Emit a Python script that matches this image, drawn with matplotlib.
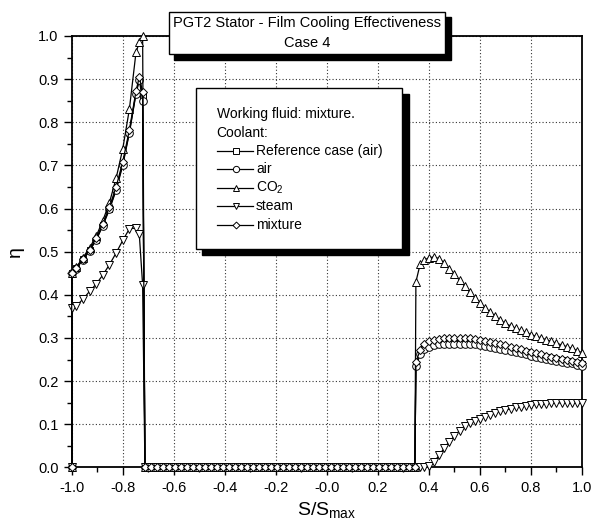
import numpy as np
import matplotlib
matplotlib.use("Agg")
import matplotlib.pyplot as plt
from matplotlib.patches import Rectangle
from matplotlib.lines import Line2D

plt.rcParams['font.family'] = ['Liberation Sans', 'DejaVu Sans']
plt.rcParams['mathtext.fontset'] = 'custom'
plt.rcParams['mathtext.rm'] = 'Liberation Sans'
plt.rcParams['mathtext.it'] = 'Liberation Sans:italic'
plt.rcParams['mathtext.default'] = 'regular'

# ---- data ----
# suction side (left part), S/Smax
s_left = [-1.0, -1.0, -0.982, -0.956, -0.930, -0.904, -0.878, -0.852,
          -0.826, -0.800, -0.774, -0.748, -0.735, -0.722]
eta_ref_left = [0.0, 0.45, 0.462, 0.482, 0.503, 0.528, 0.562, 0.600,
                0.645, 0.703, 0.777, 0.868, 0.900, 0.862]
eta_air_left = [0.0, 0.45, 0.461, 0.481, 0.502, 0.527, 0.560, 0.598,
                0.642, 0.700, 0.775, 0.866, 0.898, 0.850]
eta_co2_left = [0.0, 0.45, 0.464, 0.486, 0.509, 0.536, 0.572, 0.614,
                0.670, 0.738, 0.830, 0.962, 0.985, 1.0]
eta_steam_left = [0.0, 0.37, 0.374, 0.390, 0.408, 0.425, 0.446, 0.470,
                  0.497, 0.526, 0.553, 0.555, 0.540, 0.423]
eta_mix_left = [0.0, 0.45, 0.463, 0.484, 0.505, 0.531, 0.565, 0.604,
                0.650, 0.708, 0.782, 0.872, 0.905, 0.870]

# uncooled stretch, effectiveness is zero
s_gap = [-0.713, -0.690, -0.666, -0.643, -0.619, -0.596, -0.572, -0.549,
         -0.525, -0.502, -0.478, -0.455, -0.431, -0.408, -0.384, -0.361,
         -0.337, -0.314, -0.290, -0.267, -0.243, -0.220, -0.196, -0.173,
         -0.149, -0.126, -0.102, -0.079, -0.055, -0.032, -0.008, 0.015,
         0.039, 0.062, 0.086, 0.109, 0.133, 0.156, 0.180, 0.203,
         0.227, 0.250, 0.274, 0.297, 0.321, 0.345]
eta_gap = [0.0] * len(s_gap)

# pressure side (right part)
s_right = [0.349, 0.366, 0.38, 0.40, 0.42, 0.44, 0.46, 0.48, 0.50, 0.52,
           0.54, 0.56, 0.58, 0.60, 0.62, 0.64, 0.66, 0.68, 0.70, 0.72,
           0.74, 0.76, 0.78, 0.80, 0.82, 0.84, 0.86, 0.88, 0.90, 0.92,
           0.94, 0.96, 0.98, 1.0]
eta_ref_right = [0.240, 0.267, 0.279, 0.286, 0.289, 0.291, 0.292, 0.293, 0.293, 0.293,
                 0.293, 0.292, 0.291, 0.289, 0.287, 0.285, 0.282, 0.280, 0.278, 0.275,
                 0.272, 0.270, 0.267, 0.264, 0.261, 0.258, 0.256, 0.253, 0.251, 0.248,
                 0.246, 0.244, 0.241, 0.239]
eta_air_right = [0.234, 0.262, 0.274, 0.280, 0.283, 0.285, 0.286, 0.287, 0.287, 0.287,
                 0.287, 0.286, 0.285, 0.283, 0.281, 0.279, 0.277, 0.275, 0.273, 0.270,
                 0.268, 0.265, 0.262, 0.259, 0.257, 0.254, 0.252, 0.249, 0.247, 0.245,
                 0.243, 0.241, 0.238, 0.236]
eta_co2_right = [0.430, 0.472, 0.480, 0.486, 0.488, 0.484, 0.474, 0.461, 0.448, 0.434,
                 0.420, 0.406, 0.393, 0.381, 0.370, 0.360, 0.350, 0.341, 0.334, 0.328,
                 0.323, 0.318, 0.313, 0.308, 0.304, 0.300, 0.296, 0.292, 0.288, 0.284,
                 0.280, 0.276, 0.271, 0.266]
eta_steam_right = [0.0, 0.0, 0.0, 0.003, 0.013, 0.028, 0.045, 0.060, 0.073, 0.085,
                   0.096, 0.102, 0.108, 0.113, 0.118, 0.122, 0.126, 0.130, 0.133, 0.136,
                   0.139, 0.141, 0.143, 0.145, 0.146, 0.147, 0.148, 0.149, 0.149, 0.150,
                   0.150, 0.150, 0.149, 0.149]
eta_mix_right = [0.245, 0.272, 0.285, 0.292, 0.296, 0.298, 0.299, 0.300, 0.300, 0.300,
                 0.300, 0.299, 0.297, 0.295, 0.293, 0.290, 0.288, 0.285, 0.283, 0.280,
                 0.277, 0.274, 0.271, 0.268, 0.265, 0.262, 0.259, 0.256, 0.254, 0.251,
                 0.249, 0.246, 0.244, 0.242]

labels = ["Reference case (air)", "air", "CO$_2$", "steam", "mixture"]
markers = ["s", "o", "^", "v", "D"]
msizes = [5, 5.5, 6, 6, 4.5]

s_all = s_left + s_gap + s_right
series = [
    eta_ref_left + eta_gap + eta_ref_right,
    eta_air_left + eta_gap + eta_air_right,
    eta_co2_left + eta_gap + eta_co2_right,
    eta_steam_left + eta_gap + eta_steam_right,
    eta_mix_left + eta_gap + eta_mix_right,
]

fig = plt.figure(figsize=(6.05, 5.29), dpi=100)
ax = fig.add_axes([0.1185, 0.1164, 0.8435, 0.8156])

for eta, m, ms in zip(series, markers, msizes):
    ax.plot(s_all, eta, color="black", linewidth=0.9, marker=m, markersize=ms,
            markerfacecolor="white", markeredgecolor="black", markeredgewidth=0.7,
            clip_on=False, zorder=3)

ax.set_xlim(-1.0, 1.0)
ax.set_ylim(0.0, 1.0)
ax.set_xticks(np.arange(-1.0, 1.01, 0.2))
ax.set_xticks(np.arange(-0.9, 1.0, 0.2), minor=True)
ax.set_yticks(np.arange(0.0, 1.01, 0.1))
ax.set_yticks(np.arange(0.05, 1.0, 0.1), minor=True)
ax.xaxis.set_major_formatter(plt.FormatStrFormatter('%.1f'))
ax.yaxis.set_major_formatter(plt.FormatStrFormatter('%.1f'))
ax.tick_params(which="both", direction="out", top=False, right=False, width=1.0,
               labelsize=10.5)
ax.tick_params(which="major", length=6)
ax.tick_params(which="minor", length=3.5)
for sp in ax.spines.values():
    sp.set_linewidth(1.3)
ax.grid(True, which="major", linestyle=(0, (1, 2)), color="#333333", linewidth=0.8)
ax.set_axisbelow(True)

ax.set_xlabel("S/S$_{max}$", fontsize=14, labelpad=4)
ax.set_ylabel("η", fontsize=14, labelpad=10)

# title box with shadow
tb = (0.190, 0.958, 0.542, 0.098)
ax.add_patch(Rectangle((tb[0] + 0.011, tb[1] - 0.013), tb[2], tb[3], transform=ax.transAxes,
                       facecolor="black", edgecolor="black", clip_on=False, zorder=10))
ax.add_patch(Rectangle((tb[0], tb[1]), tb[2], tb[3], transform=ax.transAxes,
                       facecolor="white", edgecolor="black", linewidth=1.0,
                       clip_on=False, zorder=11))
ax.text(tb[0] + tb[2] / 2, 1.029, "PGT2 Stator - Film Cooling Effectiveness",
        transform=ax.transAxes, ha="center", va="center", fontsize=10.5, zorder=12)
ax.text(tb[0] + tb[2] / 2, 0.983, "Case 4", transform=ax.transAxes,
        ha="center", va="center", fontsize=10.5, zorder=12)

# legend box with shadow
lb = (0.243, 0.506, 0.405, 0.373)
ax.add_patch(Rectangle((lb[0] + 0.012, lb[1] - 0.014), lb[2], lb[3], transform=ax.transAxes,
                       facecolor="black", edgecolor="black", clip_on=False, zorder=10))
ax.add_patch(Rectangle((lb[0], lb[1]), lb[2], lb[3], transform=ax.transAxes,
                       facecolor="white", edgecolor="black", linewidth=1.0,
                       clip_on=False, zorder=11))
row_y = [0.819, 0.776, 0.733, 0.691, 0.648, 0.605, 0.562]
ax.text(0.284, row_y[0], "Working fluid: mixture.", transform=ax.transAxes,
        ha="left", va="center", fontsize=10, zorder=12)
ax.text(0.284, row_y[1], "Coolant:", transform=ax.transAxes,
        ha="left", va="center", fontsize=10, zorder=12)
for i, (lab, m, ms) in enumerate(zip(labels, markers, msizes)):
    yy = row_y[i + 2]
    ax.add_line(Line2D([0.285, 0.356], [yy, yy], transform=ax.transAxes, color="black",
                       linewidth=0.9, zorder=12))
    ax.add_line(Line2D([0.321], [yy], transform=ax.transAxes, marker=m, markersize=ms - 1,
                       markerfacecolor="white", markeredgecolor="black",
                       markeredgewidth=0.7, zorder=13))
    ax.text(0.361, yy, lab, transform=ax.transAxes, ha="left", va="center",
            fontsize=10, zorder=12)

fig.savefig("out.png", dpi=100)
